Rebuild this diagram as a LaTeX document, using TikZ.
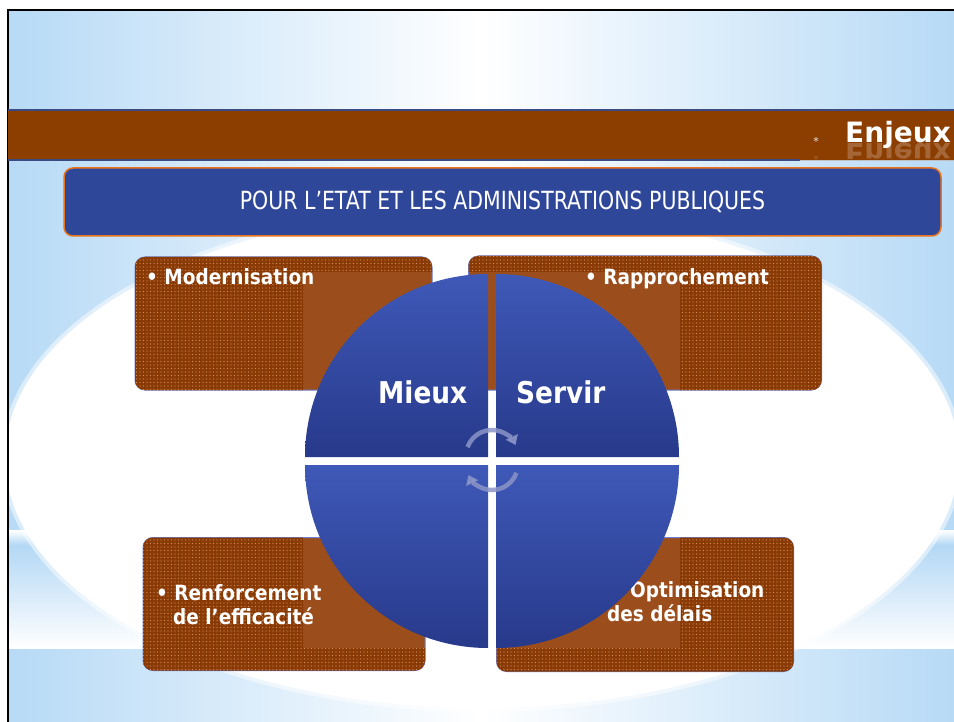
\documentclass[tikz,border=0pt]{standalone}
\usepackage{fontspec}
\setmainfont{DejaVu Sans}
\newfontfamily\condfont{DejaVu Sans}[FakeStretch=0.88]
\newfontfamily\titlefont{DejaVu Sans}[FakeStretch=0.82]
\usetikzlibrary{patterns.meta,arrows.meta}

\definecolor{skyA}{HTML}{B7DAF6}
\definecolor{skyB}{HTML}{B3D8F5}
\definecolor{barbrown}{HTML}{8C3D00}
\definecolor{barline}{HTML}{3B4A80}
\definecolor{titleblue}{HTML}{2F4799}
\definecolor{titleedge}{HTML}{E8741E}
\definecolor{boxsolid}{HTML}{9B4E1C}
\definecolor{boxbase}{HTML}{8A3A05}
\definecolor{boxdots}{HTML}{CC8E60}
\definecolor{boxedge}{HTML}{6A7FD0}
\definecolor{quadtop}{HTML}{3F59B8}
\definecolor{quadbot}{HTML}{27398A}
\definecolor{cyclearrow}{HTML}{8C95C8}

\tikzset{
  brownbox/.style={draw=boxedge, line width=1pt, fill=boxsolid, rounded corners=10pt, inner sep=0pt},
  boxtext/.style={text=white, font=\condfont\bfseries\fontsize{21}{24}\selectfont, inner sep=0pt, anchor=base west},
  bigword/.style={text=white, font=\condfont\bfseries\fontsize{30}{30}\selectfont, inner sep=0pt, anchor=base west},
  quadrant top/.style={top color=quadtop, bottom color=quadbot},
  cyclearc/.style={draw=cyclearrow, line width=4.5pt, opacity=0.85, -{Triangle[length=9pt,width=13pt]}},
}

\begin{document}
\begin{tikzpicture}[x=1pt,y=-1pt]
\useasboundingbox (0,0) rectangle (954,722);
\fill[white] (0,0) rectangle (954,722);

% slide background: sky gradient, lower bands and the large white oval
\shade[left color=skyA, right color=skyA, middle color=white] (8,10) rectangle (954,722);
\shade[top color=white, bottom color=skyB] (8,530) rectangle (954,545);
\shade[top color=skyB, bottom color=white] (8,545) rectangle (954,648);
\fill[white, opacity=0.5] (482,458) ellipse[x radius=481, y radius=254];
\fill[white] (482,458) ellipse[x radius=477, y radius=250];

% slide frame
\draw[black, line width=2pt] (8,722) -- (8,10) -- (954,10);

% header bar
\fill[barbrown] (8,110) rectangle (954,160);
\draw[barline, line width=1.2pt] (8,110) -- (954,110);
\draw[barline, line width=1.2pt] (8,160) -- (800,160);
\draw[gray!50, line width=1pt] (800,161) -- (954,161);
\node[text=white!80!gray, font=\fontsize{11}{11}\selectfont, inner sep=0pt] (star) at (816,141) {*};
\node[text=white, font=\bfseries\fontsize{28}{28}\selectfont, inner sep=0pt, anchor=base west] (enjeux) at (845,143) {Enjeux};
\begin{scope}
  \clip (800,144) rectangle (954,159);
  \node[text=white, opacity=0.22, font=\bfseries\fontsize{28}{28}\selectfont, inner sep=0pt, anchor=base west, yscale=-1] (enjeuxmirror) at (845,144) {Enjeux};
  \node[text=white, opacity=0.2, font=\fontsize{11}{11}\selectfont, inner sep=0pt, yscale=-1] (starmirror) at (816,157) {*};
\end{scope}

% title banner
\node[fill=titleblue, draw=titleedge, line width=1.5pt, rounded corners=9pt,
      minimum width=877pt, minimum height=68pt, inner sep=0pt] (title) at (502.5,202) {};
\node[text=white, font=\titlefont\fontsize{25}{25}\selectfont, inner sep=0pt, anchor=base] (titletext) at (502.5,210) {POUR L’ETAT ET LES ADMINISTRATIONS PUBLIQUES};

% four brown boxes
\node[brownbox, minimum width=297pt, minimum height=133pt] (bTL) at (283.5,323.5) {};
\node[brownbox, minimum width=353pt, minimum height=134pt] (bTR) at (645,323) {};
\node[brownbox, minimum width=282pt, minimum height=133pt] (bBL) at (284,604) {};
\node[brownbox, minimum width=297pt, minimum height=134pt] (bBR) at (645,604.5) {};
\foreach \b in {bTL,bTR,bBL,bBR}{
  \begin{scope}
    \clip[rounded corners=9.5pt] ([shift={(0.5pt,0.5pt)}]\b.south west) rectangle ([shift={(-0.5pt,-0.5pt)}]\b.north east);
    \fill[boxbase, even odd rule] (\b.south west) rectangle (\b.north east) (303,272) rectangle (680,648);
    \fill[pattern={Dots[distance=3.5pt, radius=0.7pt]}, pattern color=boxdots, even odd rule]
      (\b.south west) rectangle (\b.north east) (303,272) rectangle (680,648);
  \end{scope}
}

\node[boxtext] (tModern) at (146,285) {• Modernisation};
\node[boxtext] (tRappro) at (585,285) {• Rapprochement};
\node[boxtext] (tRenfo) at (156,600) {• Renforcement};
\node[boxtext] (tEffic) at (173,624) {de l’efficacité};
\node[boxtext] (tOptim) at (630,597) {Optimisation};
\node[boxtext] (tDelais) at (607,621) {des délais};

% central disc in four quarters
\shade[quadrant top] (488,457) -- (488,274) arc[start angle=270, end angle=180, radius=183] -- cycle;
\shade[quadrant top] (496,457) -- (496,274) arc[start angle=270, end angle=360, radius=183] -- cycle;
\shade[quadrant top] (488,465) -- (305,465) arc[start angle=180, end angle=90, radius=183] -- cycle;
\shade[quadrant top] (496,465) -- (679,465) arc[start angle=0, end angle=90, radius=183] -- cycle;

\node[bigword] (mieux) at (378,403) {Mieux};
\node[bigword] (servir) at (516,403) {Servir};

% cycle arrows in the middle
\coordinate (cycU) at (492,456);
\coordinate (cycD) at (492,464);
\draw[cyclearc] (cycU) ++(200:26) arc[start angle=200, end angle=335, radius=26];
\draw[cyclearc] (cycD) ++(20:26) arc[start angle=20, end angle=155, radius=26];
\end{tikzpicture}
\end{document}
